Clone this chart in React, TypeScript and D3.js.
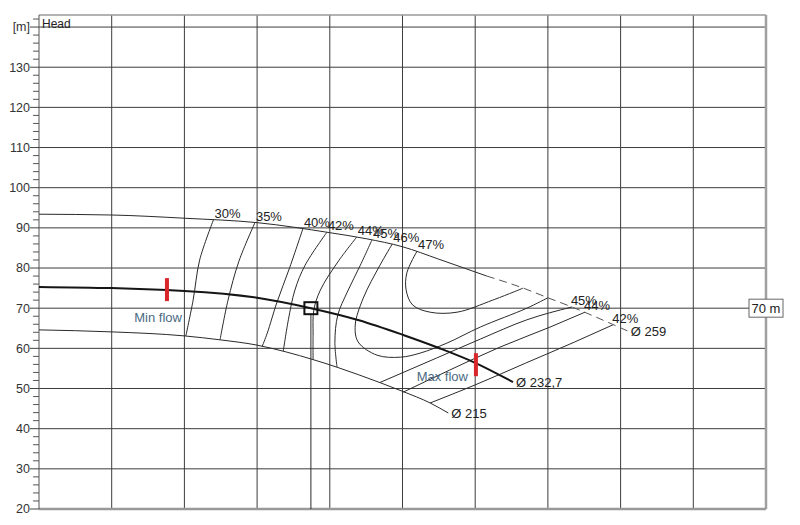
import React from 'react';
import * as d3 from 'd3';

type Pt = [number, number]; // [flow (grid units), head m]

// Head axis ticks ("[m]" sits where 140 would be)
const headTicks = [20, 30, 40, 50, 60, 70, 80, 90, 100, 110, 120, 130, 140];
const headTickLabels = ['20', '30', '40', '50', '60', '70', '80', '90', '100', '110', '120', '130', '[m]'];
const flowGrid = [0, 10, 20, 30, 40, 50, 60, 70, 80, 90, 100];

// impeller curves
const curveD259: Pt[] = [[0, 93.4], [10, 93.2], [20, 92.4], [30, 91.3], [40, 88.8], [45, 87.3], [50, 85.3], [55, 82.2], [61.6, 78.0], [66.6, 75.0], [70, 72.6], [73.3, 70.3], [79, 65.9], [81, 64.3]];
const dashFrom = 61.6;
const curveD215: Pt[] = [[0, 64.6], [10, 64.1], [20, 63.1], [25, 62.1], [30, 60.8], [34, 59.1], [37.7, 57.2], [41, 55.3], [44, 53.4], [47, 51.4], [50, 49.3], [53.8, 46.4], [56.3, 43.9]];
const curveD232: Pt[] = [[0, 75.3], [10, 75.0], [17.6, 74.5], [20, 74.3], [30, 72.6], [37.4, 70.0], [44, 67.0], [50, 63.4], [55, 60.1], [60, 56.4], [65.2, 51.6]];

// iso-efficiency lines
const eff30: Pt[] = [[24.0, 92.0], [22.1, 82.0], [21.2, 72.0], [20.2, 63.1]];
const eff35: Pt[] = [[29.7, 91.3], [27.5, 81.7], [26.0, 72.0], [24.9, 62.1]];
const eff40: Pt[] = [[36.3, 89.8], [34.5, 80.2], [32.7, 71.3], [31.4, 63.8], [30.7, 60.5]];
const eff42: Pt[] = [[39.6, 88.9], [36.6, 80.7], [35.2, 74.5], [34.3, 67.1], [33.6, 59.3]];
const eff44: Pt[] = [[43.7, 87.7], [41.1, 81.5], [38.7, 74.5], [37.8, 69.5], [37.7, 63.3], [37.7, 57.2]];
const eff45: Pt[] = [[45.8, 87.0], [44.2, 80.7], [42.4, 74.0], [41.1, 68.3], [40.7, 61.6], [41.0, 55.3]];
const eff46: Pt[] = [[48.6, 86.0], [46.9, 80.7], [44.6, 72.5], [43.5, 65.8], [43.9, 61.6], [46.5, 58.3], [49.7, 57.8], [52.4, 58.8], [56.1, 61.3], [60.7, 65.3], [67.1, 70.0], [70.0, 72.6]];
const eff47: Pt[] = [[52.0, 84.2], [50.6, 78.8], [50.5, 74.5], [51.4, 70.8], [53.8, 69.0], [57.5, 69.0], [62.4, 72.0], [66.6, 75.0]];
const eff45r: Pt[] = [[46.9, 51.5], [54.7, 57.6], [60.7, 62.3], [67.1, 67.1], [73.3, 70.3]];
const eff44r: Pt[] = [[50.1, 49.1], [56.5, 54.6], [63.4, 60.3], [70.3, 65.3], [75.1, 69.0]];
const eff42r: Pt[] = [[53.8, 46.4], [60.0, 50.9], [66.9, 56.3], [73.7, 61.6], [79.0, 65.9]];

const topLabelled = [
  { label: '30%', pts: eff30 }, { label: '35%', pts: eff35 }, { label: '40%', pts: eff40 },
  { label: '42%', pts: eff42 }, { label: '44%', pts: eff44 }, { label: '45%', pts: eff45 },
  { label: '46%', pts: eff46 }, { label: '47%', pts: eff47 },
];
const rightLabelled = [
  { label: '45%', pts: eff45r }, { label: '44%', pts: eff44r }, { label: '42%', pts: eff42r },
];

const minFlowQ = 17.6;
const maxFlowQ = 60.1;
const dutyQ = 37.4;
const dutyH = 70;

const W = 800, H = 525;
const FONT = '"Liberation Sans", Arial, sans-serif';

export default function App() {
  const x = d3.scaleLinear().domain([0, 100]).range([39, 766]);
  const y = d3.scaleLinear().domain([20, 143]).range([509, 15]);
  // contours bend back on themselves, the Q-H curves don't
  const line = d3.line<Pt>().x(d => x(d[0])).y(d => y(d[1])).curve(d3.curveCatmullRom.alpha(0.5));
  const qhLine = d3.line<Pt>().x(d => x(d[0])).y(d => y(d[1])).curve(d3.curveMonotoneX);
  const opAt = (q: number) => {
    const i = d3.bisector((d: Pt) => d[0]).left(curveD232, q);
    const a = curveD232[Math.max(0, i - 1)], b = curveD232[Math.min(curveD232.length - 1, i)];
    return a[0] === b[0] ? a[1] : a[1] + (b[1] - a[1]) * (q - a[0]) / (b[0] - a[0]);
  };
  const minorTicks = d3.range(20, 143, 2).filter(v => v % 10 !== 0);
  const solidTop = curveD259.filter(d => d[0] <= dashFrom);
  const dashTop = curveD259.filter(d => d[0] >= dashFrom);
  const thin = { fill: 'none', stroke: '#2a2a2a', strokeWidth: 1 };
  const last = (p: Pt[]) => p[p.length - 1];
  const minY = y(opAt(minFlowQ)), maxY = y(opAt(maxFlowQ));

  return (
    <svg width={W} height={H} style={{ position: 'absolute', left: 0, top: 0, background: '#fff' }} fontFamily={FONT}>
      {/* grid */}
      {headTicks.slice(1).map(v => (
        <line key={'h' + v} x1={x(0)} x2={x(100)} y1={y(v)} y2={y(v)} stroke="#3c3c3c" strokeWidth={1} />
      ))}
      {flowGrid.slice(1, -1).map(v => (
        <line key={'v' + v} x1={x(v)} x2={x(v)} y1={y(143)} y2={y(20)} stroke="#3c3c3c" strokeWidth={1} />
      ))}
      {/* frame */}
      <line x1={x(0)} x2={x(100)} y1={y(143)} y2={y(143)} stroke="#999" strokeWidth={1.5} />
      <line x1={x(100)} x2={x(100)} y1={y(143)} y2={y(20)} stroke="#a0a0a0" strokeWidth={2.5} />
      <line x1={x(0)} x2={x(100)} y1={y(20)} y2={y(20)} stroke="#999" strokeWidth={2.5} />
      <line x1={x(0)} x2={x(0)} y1={y(143)} y2={y(20)} stroke="#555" strokeWidth={1} />

      {/* head axis ticks */}
      {headTicks.map((v, i) => (
        <g key={'t' + v}>
          <line x1={x(0) - 9} x2={x(0)} y1={y(v)} y2={y(v)} stroke="#444" />
          <text x={x(0) - 9} y={y(v)} dy="0.35em" textAnchor="end" fontSize={12.5} fill="#333">{headTickLabels[i]}</text>
        </g>
      ))}
      {minorTicks.map(v => (
        <line key={'m' + v} x1={x(0) - 6} x2={x(0)} y1={y(v)} y2={y(v)} stroke="#555" />
      ))}
      <text x={x(0) + 3} y={y(140) + 1} fontSize={12} fill="#222">Head</text>

      {/* duty point vertical */}
      <line x1={x(dutyQ)} x2={x(dutyQ)} y1={y(dutyH) + 6} y2={y(20)} stroke="#2a2a2a" strokeWidth={1} />

      {/* efficiency lines */}
      {topLabelled.map((e, i) => (
        <path key={'e' + i} d={line(e.pts) || ''} {...thin} />
      ))}
      {rightLabelled.map((e, i) => (
        <path key={'er' + i} d={qhLine(e.pts) || ''} {...thin} />
      ))}
      {topLabelled.map(e => (
        <text key={'tl' + e.label} x={x(e.pts[0][0]) + 1} y={y(e.pts[0][1]) - 2} fontSize={13} fill="#222">{e.label}</text>
      ))}
      {rightLabelled.map(e => (
        <text key={'rl' + e.label} x={x(last(e.pts)[0]) - 1} y={y(last(e.pts)[1]) - 2} fontSize={13} fill="#222">{e.label}</text>
      ))}

      {/* impeller curves */}
      <path d={qhLine(solidTop) || ''} {...thin} />
      <path d={qhLine(dashTop) || ''} fill="none" stroke="#555" strokeWidth={1} strokeDasharray="8 5" />
      <path d={qhLine(curveD215) || ''} {...thin} />
      <path d={qhLine(curveD232) || ''} fill="none" stroke="#151515" strokeWidth={2} />
      <text x={x(last(curveD259)[0]) + 3} y={y(last(curveD259)[1])} dy="0.35em" fontSize={13} fill="#222">Ø 259</text>
      <text x={x(last(curveD232)[0]) + 3} y={y(last(curveD232)[1])} dy="0.35em" fontSize={13} fill="#222">Ø 232,7</text>
      <text x={x(last(curveD215)[0]) + 3} y={y(last(curveD215)[1])} dy="0.35em" fontSize={13} fill="#222">Ø 215</text>

      {/* min / max flow */}
      <rect x={x(minFlowQ) - 2} y={minY - 12} width={4} height={23} fill="#d8262b" />
      <text x={x(minFlowQ) + 15} y={minY + 27} dy="0.35em" textAnchor="end" fontSize={13} fill="#4a6a82">Min flow</text>
      <rect x={x(maxFlowQ) - 2} y={maxY - 10} width={4} height={23} fill="#d8262b" />
      <text x={x(maxFlowQ) - 8} y={maxY + 13} dy="0.35em" textAnchor="end" fontSize={13} fill="#4a6a82">Max flow</text>

      {/* duty point */}
      <rect x={x(dutyQ) - 6.5} y={y(dutyH) - 6} width={13} height={12} fill="none" stroke="#111" strokeWidth={2} />
      <rect x={x(100) - 17} y={y(dutyH) - 9} width={34} height={18} fill="#fff" stroke="#666" strokeWidth={1} />
      <text x={x(100)} y={y(dutyH)} dy="0.35em" textAnchor="middle" fontSize={13} fill="#222">70 m</text>
    </svg>
  );
}
